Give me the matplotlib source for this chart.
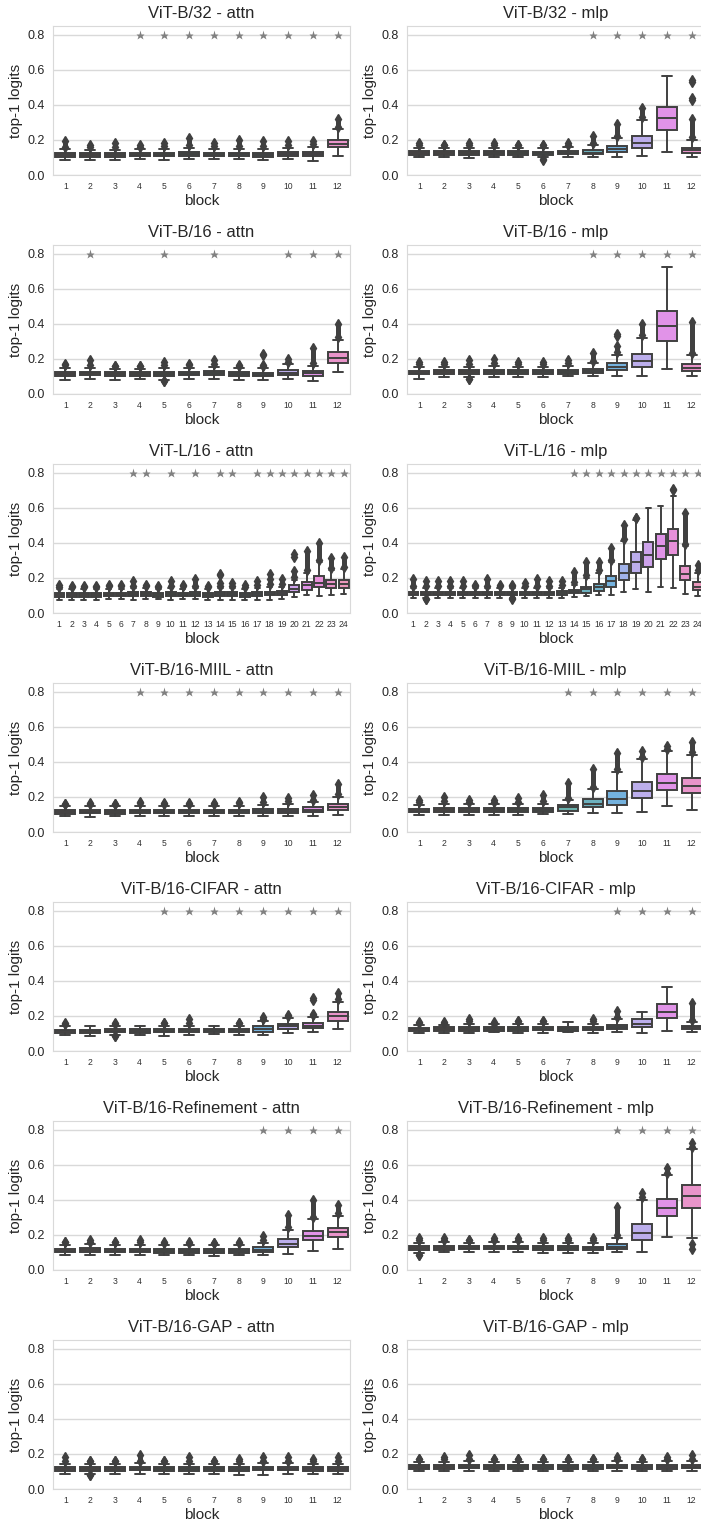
import matplotlib
matplotlib.use("Agg")
import matplotlib.pyplot as plt
import numpy as np
import seaborn as sns
import colorsys

sns.set_style("whitegrid")
plt.rcParams['font.family'] = ['Liberation Sans', 'DejaVu Sans']

# ---------------------------------------------------------------------------
# box statistics (per block): median, quartiles,
# whisker ends, top of the upper flier stack (None = no fliers)
# ---------------------------------------------------------------------------
b32_attn_med = [0.115, 0.113, 0.114, 0.116, 0.116, 0.120, 0.116, 0.118, 0.114, 0.118, 0.118, 0.178]
b32_attn_q1 = [0.105, 0.104, 0.104, 0.106, 0.106, 0.108, 0.106, 0.107, 0.104, 0.107, 0.106, 0.158]
b32_attn_q3 = [0.125, 0.123, 0.124, 0.126, 0.126, 0.132, 0.126, 0.128, 0.125, 0.129, 0.134, 0.200]
b32_attn_wlo = [0.088, 0.088, 0.085, 0.090, 0.085, 0.092, 0.090, 0.090, 0.085, 0.090, 0.080, 0.108]
b32_attn_whi = [0.148, 0.145, 0.145, 0.148, 0.150, 0.155, 0.150, 0.150, 0.150, 0.155, 0.160, 0.260]
b32_attn_fhi = [0.20, 0.18, 0.19, 0.18, 0.19, 0.22, 0.19, 0.21, 0.20, 0.20, 0.20, 0.33]
b32_attn_stars = [4, 5, 6, 7, 8, 9, 10, 11, 12]

b32_mlp_med = [0.125, 0.126, 0.125, 0.126, 0.125, 0.124, 0.127, 0.128, 0.148, 0.185, 0.323, 0.140]
b32_mlp_q1 = [0.115, 0.116, 0.115, 0.116, 0.115, 0.114, 0.117, 0.118, 0.130, 0.152, 0.257, 0.124]
b32_mlp_q3 = [0.135, 0.136, 0.135, 0.136, 0.135, 0.134, 0.137, 0.140, 0.168, 0.223, 0.390, 0.156]
b32_mlp_wlo = [0.100, 0.100, 0.095, 0.100, 0.100, 0.100, 0.100, 0.100, 0.100, 0.108, 0.130, 0.100]
b32_mlp_whi = [0.155, 0.155, 0.155, 0.155, 0.155, 0.155, 0.158, 0.170, 0.210, 0.315, 0.566, 0.200]
b32_mlp_fhi = [0.19, 0.18, 0.19, 0.19, 0.18, 0.18, 0.19, 0.23, 0.30, 0.39, None, 0.33]
b32_mlp_low = {6: (0.08, 0.09)}
b32_mlp_extra = {12: [0.43, 0.44, 0.53, 0.54]}
b32_mlp_stars = [8, 9, 10, 11, 12]

b16_attn_med = [0.115, 0.118, 0.113, 0.113, 0.115, 0.116, 0.118, 0.115, 0.110, 0.122, 0.118, 0.205]
b16_attn_q1 = [0.105, 0.108, 0.104, 0.104, 0.105, 0.106, 0.108, 0.105, 0.100, 0.110, 0.105, 0.176]
b16_attn_q3 = [0.126, 0.128, 0.124, 0.124, 0.126, 0.127, 0.130, 0.126, 0.122, 0.137, 0.132, 0.237]
b16_attn_wlo = [0.082, 0.088, 0.082, 0.085, 0.080, 0.085, 0.088, 0.082, 0.078, 0.085, 0.075, 0.123]
b16_attn_whi = [0.150, 0.150, 0.145, 0.145, 0.150, 0.150, 0.155, 0.150, 0.150, 0.170, 0.160, 0.310]
b16_attn_fhi = [0.18, 0.20, 0.17, 0.17, 0.19, 0.18, 0.20, 0.17, 0.17, 0.21, 0.27, 0.41]
b16_attn_low = {5: (0.065, 0.075)}
b16_attn_extra = {9: [0.22, 0.23]}
b16_attn_stars = [2, 5, 7, 10, 11, 12]

b16_mlp_med = [0.122, 0.124, 0.124, 0.125, 0.124, 0.124, 0.126, 0.132, 0.155, 0.187, 0.390, 0.150]
b16_mlp_q1 = [0.112, 0.114, 0.114, 0.115, 0.114, 0.114, 0.116, 0.120, 0.137, 0.155, 0.303, 0.133]
b16_mlp_q3 = [0.133, 0.135, 0.135, 0.136, 0.135, 0.135, 0.137, 0.145, 0.176, 0.226, 0.474, 0.170]
b16_mlp_wlo = [0.088, 0.095, 0.095, 0.098, 0.095, 0.095, 0.100, 0.105, 0.100, 0.103, 0.142, 0.100]
b16_mlp_whi = [0.155, 0.155, 0.155, 0.160, 0.155, 0.155, 0.160, 0.175, 0.225, 0.320, 0.724, 0.220]
b16_mlp_fhi = [0.19, 0.19, 0.20, 0.21, 0.19, 0.19, 0.20, 0.24, 0.28, 0.41, None, 0.42]
b16_mlp_low = {3: (0.075, 0.085)}
b16_mlp_extra = {9: [0.33, 0.34]}
b16_mlp_stars = [8, 9, 10, 11, 12]

l16_attn_med = [0.100, 0.102, 0.102, 0.102, 0.104, 0.104, 0.106, 0.106, 0.102, 0.106, 0.104, 0.106,
                0.102, 0.106, 0.106, 0.102, 0.108, 0.110, 0.112, 0.137, 0.160, 0.172, 0.165, 0.168]
l16_attn_q1 = [0.092, 0.093, 0.093, 0.093, 0.095, 0.095, 0.096, 0.096, 0.093, 0.096, 0.095, 0.096,
               0.093, 0.096, 0.096, 0.093, 0.098, 0.100, 0.102, 0.120, 0.134, 0.149, 0.140, 0.143]
l16_attn_q3 = [0.112, 0.113, 0.113, 0.113, 0.115, 0.115, 0.118, 0.117, 0.113, 0.118, 0.115, 0.118,
               0.113, 0.118, 0.118, 0.113, 0.120, 0.122, 0.125, 0.159, 0.178, 0.210, 0.188, 0.190]
l16_attn_wlo = [0.075, 0.075, 0.075, 0.075, 0.078, 0.078, 0.075, 0.078, 0.078, 0.075, 0.078, 0.078,
                0.075, 0.072, 0.075, 0.075, 0.075, 0.075, 0.078, 0.090, 0.100, 0.095, 0.105, 0.110]
l16_attn_whi = [0.135, 0.135, 0.135, 0.135, 0.138, 0.138, 0.140, 0.140, 0.135, 0.140, 0.138, 0.140,
                0.135, 0.140, 0.140, 0.135, 0.145, 0.150, 0.150, 0.190, 0.230, 0.290, 0.245, 0.250]
l16_attn_fhi = [0.17, 0.16, 0.16, 0.16, 0.17, 0.17, 0.19, 0.17, 0.16, 0.19, 0.17, 0.20,
                0.16, 0.18, 0.18, 0.17, 0.19, 0.20, 0.20, 0.25, 0.36, 0.41, 0.32, 0.33]
l16_attn_extra = {14: [0.215, 0.225], 18: [0.22], 20: [0.32, 0.335]}
l16_attn_stars = [7, 8, 10, 12, 14, 15, 17, 18, 19, 20, 21, 22, 23, 24]

l16_mlp_med = [0.110, 0.110, 0.110, 0.111, 0.110, 0.111, 0.111, 0.110, 0.110, 0.111, 0.112, 0.112,
               0.113, 0.122, 0.135, 0.150, 0.180, 0.230, 0.290, 0.333, 0.385, 0.410, 0.225, 0.150]
l16_mlp_q1 = [0.100, 0.100, 0.100, 0.101, 0.100, 0.101, 0.101, 0.100, 0.100, 0.101, 0.102, 0.102,
              0.103, 0.112, 0.115, 0.126, 0.149, 0.188, 0.226, 0.260, 0.306, 0.331, 0.188, 0.130]
l16_mlp_q3 = [0.120, 0.120, 0.120, 0.121, 0.120, 0.121, 0.121, 0.120, 0.120, 0.121, 0.122, 0.122,
              0.123, 0.132, 0.149, 0.168, 0.210, 0.278, 0.350, 0.406, 0.450, 0.478, 0.268, 0.174]
l16_mlp_wlo = [0.085, 0.085, 0.085, 0.085, 0.085, 0.085, 0.085, 0.085, 0.085, 0.088, 0.088, 0.088,
               0.088, 0.090, 0.095, 0.100, 0.100, 0.118, 0.135, 0.120, 0.150, 0.140, 0.110, 0.095]
l16_mlp_whi = [0.140, 0.140, 0.140, 0.140, 0.140, 0.140, 0.140, 0.140, 0.140, 0.140, 0.142, 0.142,
               0.143, 0.160, 0.200, 0.230, 0.290, 0.410, 0.530, 0.600, 0.610, 0.665, 0.380, 0.230]
l16_mlp_fhi = [0.20, 0.19, 0.19, 0.19, 0.19, 0.17, 0.20, 0.17, 0.17, 0.18, 0.20, 0.19,
               0.19, 0.24, 0.30, 0.30, 0.38, 0.51, 0.55, None, None, None, 0.58, 0.28]
l16_mlp_low = {2: (0.07, 0.08), 9: (0.075, 0.08)}
l16_mlp_extra = {22: [0.70, 0.71]}
l16_mlp_stars = [14, 15, 16, 17, 18, 19, 20, 21, 22, 23, 24]

miil_attn_med = [0.115, 0.116, 0.115, 0.117, 0.116, 0.117, 0.117, 0.117, 0.118, 0.120, 0.125, 0.140]
miil_attn_q1 = [0.105, 0.106, 0.105, 0.107, 0.106, 0.107, 0.107, 0.107, 0.107, 0.110, 0.114, 0.125]
miil_attn_q3 = [0.126, 0.127, 0.126, 0.128, 0.127, 0.128, 0.128, 0.128, 0.130, 0.132, 0.140, 0.160]
miil_attn_wlo = [0.090, 0.088, 0.090, 0.090, 0.090, 0.090, 0.090, 0.090, 0.090, 0.090, 0.092, 0.095]
miil_attn_whi = [0.148, 0.150, 0.148, 0.150, 0.150, 0.150, 0.150, 0.150, 0.155, 0.160, 0.170, 0.200]
miil_attn_fhi = [0.17, 0.17, 0.17, 0.18, 0.17, 0.17, 0.17, 0.18, 0.21, 0.20, 0.22, 0.28]
miil_attn_stars = [4, 5, 6, 7, 8, 9, 10, 11, 12]

miil_mlp_med = [0.122, 0.125, 0.124, 0.124, 0.124, 0.126, 0.140, 0.160, 0.186, 0.233, 0.280, 0.260]
miil_mlp_q1 = [0.113, 0.115, 0.115, 0.115, 0.115, 0.116, 0.120, 0.140, 0.155, 0.192, 0.240, 0.220]
miil_mlp_q3 = [0.133, 0.136, 0.135, 0.135, 0.135, 0.137, 0.155, 0.189, 0.236, 0.287, 0.330, 0.310]
miil_mlp_wlo = [0.098, 0.098, 0.098, 0.096, 0.098, 0.100, 0.105, 0.110, 0.110, 0.115, 0.147, 0.125]
miil_mlp_whi = [0.155, 0.160, 0.157, 0.157, 0.157, 0.160, 0.180, 0.245, 0.345, 0.415, 0.460, 0.440]
miil_mlp_fhi = [0.19, 0.21, 0.19, 0.19, 0.20, 0.22, 0.29, 0.37, 0.46, 0.47, 0.50, 0.52]
miil_mlp_stars = [7, 8, 9, 10, 11, 12]

cifar_attn_med = [0.112, 0.112, 0.115, 0.113, 0.115, 0.118, 0.118, 0.118, 0.125, 0.140, 0.145, 0.200]
cifar_attn_q1 = [0.104, 0.104, 0.107, 0.105, 0.106, 0.108, 0.108, 0.108, 0.110, 0.125, 0.130, 0.170]
cifar_attn_q3 = [0.122, 0.122, 0.125, 0.123, 0.126, 0.128, 0.128, 0.128, 0.140, 0.155, 0.160, 0.225]
cifar_attn_wlo = [0.090, 0.088, 0.090, 0.090, 0.085, 0.092, 0.095, 0.092, 0.092, 0.105, 0.110, 0.125]
cifar_attn_whi = [0.140, 0.145, 0.140, 0.145, 0.145, 0.145, 0.145, 0.145, 0.170, 0.190, 0.195, 0.280]
cifar_attn_fhi = [0.165, None, 0.165, None, 0.17, 0.19, None, 0.17, 0.20, 0.21, 0.215, 0.34]
cifar_attn_low = {3: (0.075, 0.085)}
cifar_attn_extra = {11: [0.29, 0.30]}
cifar_attn_stars = [5, 6, 7, 8, 9, 10, 11, 12]

cifar_mlp_med = [0.124, 0.126, 0.125, 0.126, 0.126, 0.128, 0.126, 0.128, 0.135, 0.155, 0.225, 0.135]
cifar_mlp_q1 = [0.114, 0.116, 0.115, 0.116, 0.115, 0.117, 0.116, 0.118, 0.125, 0.135, 0.190, 0.125]
cifar_mlp_q3 = [0.134, 0.136, 0.135, 0.136, 0.136, 0.138, 0.137, 0.138, 0.150, 0.183, 0.267, 0.145]
cifar_mlp_wlo = [0.100, 0.100, 0.100, 0.108, 0.100, 0.105, 0.108, 0.105, 0.110, 0.105, 0.113, 0.107]
cifar_mlp_whi = [0.150, 0.150, 0.155, 0.152, 0.155, 0.155, 0.165, 0.155, 0.180, 0.225, 0.365, 0.165]
cifar_mlp_fhi = [0.17, 0.17, 0.19, 0.16, 0.18, 0.18, None, 0.19, 0.235, None, None, 0.28]
cifar_mlp_stars = [9, 10, 11, 12]

ref_attn_med = [0.110, 0.112, 0.110, 0.110, 0.108, 0.108, 0.106, 0.108, 0.115, 0.150, 0.195, 0.215]
ref_attn_q1 = [0.100, 0.102, 0.100, 0.100, 0.099, 0.099, 0.097, 0.099, 0.103, 0.130, 0.170, 0.190]
ref_attn_q3 = [0.122, 0.124, 0.122, 0.122, 0.120, 0.120, 0.118, 0.120, 0.130, 0.175, 0.220, 0.240]
ref_attn_wlo = [0.085, 0.085, 0.085, 0.085, 0.083, 0.083, 0.080, 0.083, 0.085, 0.090, 0.110, 0.120]
ref_attn_whi = [0.145, 0.148, 0.145, 0.145, 0.142, 0.142, 0.140, 0.142, 0.155, 0.230, 0.290, 0.310]
ref_attn_fhi = [0.17, 0.18, 0.17, 0.18, 0.17, 0.17, 0.16, 0.17, 0.20, 0.32, 0.41, 0.38]
ref_attn_stars = [9, 10, 11, 12]

ref_mlp_med = [0.125, 0.126, 0.127, 0.127, 0.128, 0.126, 0.125, 0.124, 0.130, 0.210, 0.355, 0.420]
ref_mlp_q1 = [0.115, 0.116, 0.117, 0.117, 0.118, 0.116, 0.115, 0.114, 0.120, 0.170, 0.307, 0.352]
ref_mlp_q3 = [0.135, 0.137, 0.137, 0.138, 0.138, 0.137, 0.135, 0.134, 0.149, 0.263, 0.406, 0.486]
ref_mlp_wlo = [0.095, 0.100, 0.100, 0.100, 0.100, 0.098, 0.098, 0.098, 0.100, 0.100, 0.190, 0.180]
ref_mlp_whi = [0.155, 0.158, 0.155, 0.158, 0.158, 0.155, 0.155, 0.155, 0.185, 0.400, 0.540, 0.690]
ref_mlp_fhi = [0.19, 0.19, 0.18, 0.19, 0.19, 0.19, 0.19, 0.19, 0.37, 0.45, 0.59, 0.73]
ref_mlp_low = {1: (0.08, 0.085), 12: (0.11, 0.15)}
ref_mlp_stars = [9, 10, 11, 12]

gap_attn_med = [0.115, 0.115, 0.115, 0.116, 0.115, 0.115, 0.115, 0.115, 0.116, 0.116, 0.115, 0.115]
gap_attn_q1 = [0.105, 0.105, 0.105, 0.106, 0.105, 0.105, 0.105, 0.105, 0.106, 0.106, 0.105, 0.105]
gap_attn_q3 = [0.125, 0.125, 0.125, 0.126, 0.125, 0.125, 0.125, 0.125, 0.126, 0.126, 0.125, 0.125]
gap_attn_wlo = [0.085, 0.085, 0.085, 0.085, 0.085, 0.085, 0.085, 0.082, 0.082, 0.085, 0.085, 0.085]
gap_attn_whi = [0.145, 0.145, 0.145, 0.148, 0.145, 0.145, 0.145, 0.145, 0.148, 0.148, 0.145, 0.145]
gap_attn_fhi = [0.19, 0.17, 0.17, 0.20, 0.17, 0.19, 0.17, 0.18, 0.19, 0.19, 0.18, 0.19]
gap_attn_low = {2: (0.07, 0.08)}

gap_mlp_med = [0.125, 0.126, 0.127, 0.126, 0.126, 0.126, 0.126, 0.126, 0.127, 0.126, 0.126, 0.127]
gap_mlp_q1 = [0.115, 0.116, 0.117, 0.116, 0.116, 0.116, 0.116, 0.116, 0.117, 0.116, 0.116, 0.117]
gap_mlp_q3 = [0.135, 0.136, 0.137, 0.136, 0.136, 0.136, 0.136, 0.136, 0.137, 0.136, 0.136, 0.137]
gap_mlp_wlo = [0.100, 0.100, 0.100, 0.100, 0.100, 0.100, 0.100, 0.100, 0.100, 0.100, 0.100, 0.100]
gap_mlp_whi = [0.155, 0.155, 0.158, 0.155, 0.155, 0.155, 0.155, 0.155, 0.157, 0.155, 0.157, 0.158]
gap_mlp_fhi = [0.18, 0.19, 0.20, 0.18, 0.18, 0.18, 0.18, 0.18, 0.19, 0.18, 0.19, 0.20]

STAR_Y = 0.8

panels = [
    ("ViT-B/32 - attn", b32_attn_med, b32_attn_q1, b32_attn_q3, b32_attn_wlo, b32_attn_whi, b32_attn_fhi, {}, {}, b32_attn_stars),
    ("ViT-B/32 - mlp", b32_mlp_med, b32_mlp_q1, b32_mlp_q3, b32_mlp_wlo, b32_mlp_whi, b32_mlp_fhi, b32_mlp_low, b32_mlp_extra, b32_mlp_stars),
    ("ViT-B/16 - attn", b16_attn_med, b16_attn_q1, b16_attn_q3, b16_attn_wlo, b16_attn_whi, b16_attn_fhi, b16_attn_low, b16_attn_extra, b16_attn_stars),
    ("ViT-B/16 - mlp", b16_mlp_med, b16_mlp_q1, b16_mlp_q3, b16_mlp_wlo, b16_mlp_whi, b16_mlp_fhi, b16_mlp_low, b16_mlp_extra, b16_mlp_stars),
    ("ViT-L/16 - attn", l16_attn_med, l16_attn_q1, l16_attn_q3, l16_attn_wlo, l16_attn_whi, l16_attn_fhi, {}, l16_attn_extra, l16_attn_stars),
    ("ViT-L/16 - mlp", l16_mlp_med, l16_mlp_q1, l16_mlp_q3, l16_mlp_wlo, l16_mlp_whi, l16_mlp_fhi, l16_mlp_low, l16_mlp_extra, l16_mlp_stars),
    ("ViT-B/16-MIIL - attn", miil_attn_med, miil_attn_q1, miil_attn_q3, miil_attn_wlo, miil_attn_whi, miil_attn_fhi, {}, {}, miil_attn_stars),
    ("ViT-B/16-MIIL - mlp", miil_mlp_med, miil_mlp_q1, miil_mlp_q3, miil_mlp_wlo, miil_mlp_whi, miil_mlp_fhi, {}, {}, miil_mlp_stars),
    ("ViT-B/16-CIFAR - attn", cifar_attn_med, cifar_attn_q1, cifar_attn_q3, cifar_attn_wlo, cifar_attn_whi, cifar_attn_fhi, cifar_attn_low, cifar_attn_extra, cifar_attn_stars),
    ("ViT-B/16-CIFAR - mlp", cifar_mlp_med, cifar_mlp_q1, cifar_mlp_q3, cifar_mlp_wlo, cifar_mlp_whi, cifar_mlp_fhi, {}, {}, cifar_mlp_stars),
    ("ViT-B/16-Refinement - attn", ref_attn_med, ref_attn_q1, ref_attn_q3, ref_attn_wlo, ref_attn_whi, ref_attn_fhi, {}, {}, ref_attn_stars),
    ("ViT-B/16-Refinement - mlp", ref_mlp_med, ref_mlp_q1, ref_mlp_q3, ref_mlp_wlo, ref_mlp_whi, ref_mlp_fhi, ref_mlp_low, {}, ref_mlp_stars),
    ("ViT-B/16-GAP - attn", gap_attn_med, gap_attn_q1, gap_attn_q3, gap_attn_wlo, gap_attn_whi, gap_attn_fhi, gap_attn_low, {}, []),
    ("ViT-B/16-GAP - mlp", gap_mlp_med, gap_mlp_q1, gap_mlp_q3, gap_mlp_wlo, gap_mlp_whi, gap_mlp_fhi, {}, {}, []),
]


def seaborn_colors(n):
    cols = [sns.desaturate(c, 0.75) for c in sns.color_palette("husl", n)]
    lum = min(colorsys.rgb_to_hls(*c)[1] for c in cols) * 0.6
    # the reference fills look a bit lighter than plain desaturated husl
    cols = [tuple(0.8 * v + 0.2 for v in c) for c in cols]
    return cols, (lum, lum, lum)


def draw_panel(ax, title, med, q1, q3, wlo, whi, fhi, low, extra, stars):
    n = len(med)
    cols, gray = seaborn_colors(n)
    stats = []
    for i in range(n):
        stats.append(dict(med=med[i], q1=q1[i], q3=q3[i], whislo=wlo[i], whishi=whi[i],
                          fliers=extra.get(i + 1, [])))
    pos = np.arange(n)
    bp = ax.bxp(stats, positions=pos, widths=0.8, patch_artist=True,
                boxprops=dict(linewidth=1.4, edgecolor=gray),
                medianprops=dict(color=gray, linewidth=1.4),
                whiskerprops=dict(color=gray, linewidth=1.4),
                capprops=dict(color=gray, linewidth=1.4),
                flierprops=dict(marker='d', markersize=5, markerfacecolor=gray,
                                markeredgecolor=gray, linestyle='none'))
    for patch, c in zip(bp['boxes'], cols):
        patch.set_facecolor(c)

    # dense stacks of outliers drawn as a column capped with a diamond
    for i in range(n):
        if fhi[i] is not None:
            ax.vlines(pos[i], whi[i] + 0.01, fhi[i] - 0.005, colors=[gray], lw=3.6, zorder=2)
            ax.plot([pos[i], pos[i]], [whi[i] + 0.014, fhi[i] - 0.008], 'd', ms=5, color=gray, zorder=2)
        if (i + 1) in low:
            lo, hi = low[i + 1]
            ax.vlines(pos[i], lo + 0.005, hi, colors=[gray], lw=3.6, zorder=2)
            ax.plot([pos[i], pos[i]], [lo + 0.008, hi], 'd', ms=5, color=gray, zorder=2)

    sx = [s - 1 for s in stars]
    ax.plot(sx, [STAR_Y] * len(sx), '*', color='gray', ms=6.5, mec='none', zorder=3)

    ax.set_xlim(-0.5, n - 0.5)
    ax.set_ylim(0, 0.85)
    ax.set_xticks(pos)
    ax.set_xticklabels([str(k + 1) for k in pos], fontsize=6.2, color='.2')
    ax.set_yticks([0.0, 0.2, 0.4, 0.6, 0.8])
    ax.set_yticklabels(['0.0', '0.2', '0.4', '0.6', '0.8'], fontsize=9, color='.15')
    ax.tick_params(axis='x', length=0, pad=5)
    ax.tick_params(axis='y', length=0, pad=6)
    ax.xaxis.grid(False)
    ax.yaxis.grid(True, color='.85', lw=1)
    ax.set_axisbelow(True)
    for sp in ax.spines.values():
        sp.set_color('.85')
    ax.set_title(title, fontsize=12, color='.15', pad=6)
    ax.set_xlabel('block', fontsize=11, color='.15', labelpad=2)
    ax.set_ylabel('top-1 logits', fontsize=11, color='.15', labelpad=3)


W, H = 701, 1526
fig = plt.figure(figsize=(W / 100, H / 100), dpi=100)

col_x = [53, 407]
ax_w, ax_h = 297, 149
row_top0, row_step = 26, 219

for k, p in enumerate(panels):
    r, c = divmod(k, 2)
    top = row_top0 + r * row_step
    ax = fig.add_axes([col_x[c] / W, 1 - (top + ax_h) / H, ax_w / W, ax_h / H])
    draw_panel(ax, *p)

fig.savefig('out.png', dpi=100)
